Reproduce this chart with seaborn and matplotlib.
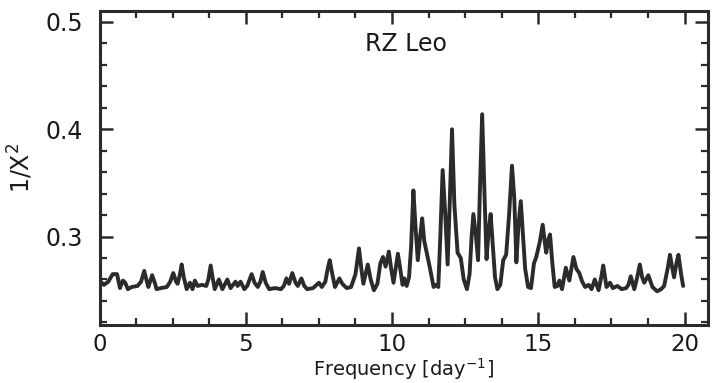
import matplotlib
matplotlib.use("Agg")
import matplotlib.pyplot as plt
from matplotlib.ticker import MultipleLocator
import seaborn as sns
import pandas as pd

freq = [0.00, 0.15, 0.30, 0.45, 0.60, 0.70, 0.80, 0.88, 0.97, 1.10, 1.30, 1.42, 1.53, 1.62, 1.67,
        1.80, 1.90, 1.95, 2.10, 2.30, 2.42, 2.52, 2.62, 2.67, 2.75, 2.81, 2.88, 2.98, 3.09, 3.18,
        3.26, 3.35, 3.50, 3.65, 3.72, 3.80, 3.87, 3.94, 4.08, 4.20, 4.37, 4.48, 4.65, 4.72, 4.82,
        4.95, 5.05, 5.20, 5.30, 5.41, 5.50, 5.58, 5.68, 5.80, 6.00, 6.20, 6.30, 6.39, 6.48, 6.59,
        6.70, 6.78, 6.90, 7.00, 7.10, 7.30, 7.50, 7.60, 7.72, 7.80, 7.87, 7.95, 8.05, 8.20, 8.30,
        8.45, 8.60, 8.75, 8.87, 8.95, 9.02, 9.17, 9.27, 9.38, 9.50, 9.60, 9.69, 9.78, 9.89, 9.97,
        10.05, 10.20, 10.28, 10.36, 10.42, 10.50, 10.58, 10.65, 10.73, 10.80, 10.88, 10.96, 11.03,
        11.10, 11.20, 11.30, 11.42, 11.50, 11.58, 11.65, 11.73, 11.82, 11.90, 11.97, 12.05, 12.13,
        12.24, 12.35, 12.45, 12.56, 12.65, 12.72, 12.78, 12.87, 12.94, 13.00, 13.08, 13.16, 13.23,
        13.30, 13.37, 13.45, 13.52, 13.60, 13.70, 13.80, 13.90, 14.00, 14.10, 14.18, 14.25, 14.32,
        14.40, 14.48, 14.55, 14.65, 14.75, 14.85, 14.93, 15.05, 15.15, 15.22, 15.27, 15.35, 15.40,
        15.48, 15.56, 15.65, 15.72, 15.81, 15.94, 16.06, 16.20, 16.30, 16.40, 16.50, 16.60, 16.72,
        16.82, 16.93, 17.06, 17.15, 17.22, 17.33, 17.45, 17.55, 17.70, 17.85, 18.00, 18.08, 18.16,
        18.28, 18.38, 18.47, 18.55, 18.62, 18.76, 18.90, 19.06, 19.20, 19.30, 19.42, 19.50, 19.57,
        19.64, 19.72, 19.79, 19.88, 19.95]

power = [0.259, 0.255, 0.258, 0.265, 0.265, 0.252, 0.259, 0.257, 0.251, 0.253, 0.254, 0.258, 0.268, 0.258, 0.253,
         0.264, 0.256, 0.251, 0.252, 0.253, 0.258, 0.266, 0.258, 0.256, 0.265, 0.274, 0.262, 0.251, 0.257, 0.251,
         0.259, 0.254, 0.255, 0.254, 0.260, 0.273, 0.261, 0.251, 0.260, 0.251, 0.260, 0.252, 0.258, 0.254, 0.258,
         0.251, 0.254, 0.265, 0.257, 0.253, 0.258, 0.267, 0.257, 0.251, 0.252, 0.251, 0.254, 0.261, 0.256, 0.266,
         0.257, 0.254, 0.261, 0.254, 0.251, 0.252, 0.257, 0.253, 0.258, 0.270, 0.278, 0.266, 0.253, 0.261, 0.256,
         0.252, 0.253, 0.265, 0.289, 0.270, 0.256, 0.274, 0.260, 0.250, 0.256, 0.275, 0.281, 0.272, 0.286, 0.270,
         0.257, 0.284, 0.270, 0.255, 0.261, 0.254, 0.262, 0.290, 0.343, 0.310, 0.278, 0.300, 0.317,
         0.296, 0.283, 0.270, 0.253, 0.255, 0.253, 0.300, 0.362, 0.320, 0.274, 0.330, 0.400, 0.330,
         0.285, 0.280, 0.260, 0.251, 0.265, 0.300, 0.321, 0.300, 0.278, 0.340, 0.414, 0.340, 0.279,
         0.305, 0.321, 0.290, 0.262, 0.251, 0.255, 0.278, 0.283, 0.320, 0.366, 0.335, 0.276, 0.310,
         0.333, 0.300, 0.270, 0.253, 0.252, 0.275, 0.281, 0.295, 0.311, 0.295, 0.285, 0.298, 0.302,
         0.275, 0.253, 0.254, 0.259, 0.251, 0.271, 0.259, 0.281, 0.270, 0.266, 0.258, 0.253, 0.255,
         0.251, 0.260, 0.250, 0.262, 0.273, 0.253, 0.257, 0.252, 0.254, 0.251, 0.252, 0.255, 0.263,
         0.251, 0.262, 0.274, 0.262, 0.257, 0.264, 0.253, 0.249, 0.251, 0.254, 0.270, 0.283, 0.272,
         0.262, 0.275, 0.283, 0.265, 0.254]

x_ticks = [0, 5, 10, 15, 20]
y_ticks = [0.3, 0.4, 0.5]
y_tick_labels = ["0.3", "0.4", "0.5"]
title_text = "RZ Leo"
x_label = r"Frequency [day$^{\mathregular{-1}}$]"
y_label = r"1/X$^{\mathregular{2}}$"

sns.set_style("ticks")
plt.rcParams["font.family"] = ["DejaVu Sans"]

ink = "#2b2b2b"
txt = "#1a1a1a"
df = pd.DataFrame({"freq": freq, "power": power})

ax_top, ax_bot = 11, 325
fig = plt.figure(figsize=(7.16, 3.83), dpi=100)
ax = fig.add_axes([99.5 / 716, 1 - ax_bot / 383, (708 - 99.5) / 716, (ax_bot - ax_top) / 383])

sns.lineplot(data=df, x="freq", y="power", ax=ax, sort=False, estimator=None,
             color=ink, linewidth=2.8)

ax.set_xlim(0, 20.8)
ax.set_ylim(0.2176, 0.5102)
ax.set_xticks(x_ticks)
ax.set_xticklabels([str(t) for t in x_ticks])
ax.set_yticks(y_ticks)
ax.set_yticklabels(y_tick_labels)
ax.xaxis.set_minor_locator(MultipleLocator(1.25))
ax.yaxis.set_minor_locator(MultipleLocator(0.02))

ax.tick_params(which="both", direction="in", top=True, right=True, color=ink,
               labelcolor=txt, labelsize=17)
ax.tick_params(which="major", length=9.5, width=1.8)
ax.tick_params(which="minor", length=5, width=1.6)
ax.tick_params(axis="x", which="major", pad=6, labelsize=16.5)
ax.tick_params(axis="y", which="major", pad=12)

for sp in ax.spines.values():
    sp.set_linewidth(2.2)
    sp.set_color(ink)
    sp.set_visible(True)

ax.set_xlabel(x_label, fontsize=14, color=txt, va="bottom")
ax.xaxis.set_label_coords(0.5, -(382 - ax_bot) / (ax_bot - ax_top))
ax.set_ylabel(y_label, fontsize=17, color=txt, labelpad=7)

ax.text(10.46, 0.4796, title_text, ha="center", va="center", fontsize=17, color=txt)

fig.savefig("out.png", dpi=100)
